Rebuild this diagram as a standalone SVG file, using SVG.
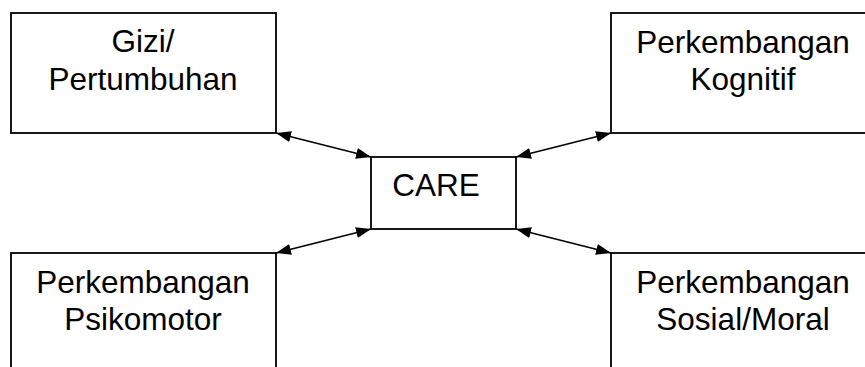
<svg xmlns="http://www.w3.org/2000/svg" width="865" height="367" viewBox="0 0 865 367">
  <style>
    .box { fill: #fff; stroke: #000; stroke-width: 1.8; }
    .lbl { font-family: "Liberation Sans", Arial, sans-serif; font-size: 31.5px; fill: #000; text-anchor: middle; }
    .link { stroke: #000; stroke-width: 1.6; fill: none; marker-start: url(#head); marker-end: url(#head); }
  </style>
  <defs>
    <marker id="head" viewBox="0 0 15 11" refX="15" refY="5.5" markerWidth="15" markerHeight="11" markerUnits="userSpaceOnUse" orient="auto-start-reverse">
      <path d="M0,0 L15,5.5 L0,11 Z" fill="#000"/>
    </marker>
  </defs>
  <rect width="865" height="367" fill="#fff"/>

  <g id="connectors">
    <line class="link" x1="276" y1="133" x2="371" y2="157"/>
    <line class="link" x1="516" y1="157" x2="611" y2="133"/>
    <line class="link" x1="276" y1="253" x2="371" y2="229"/>
    <line class="link" x1="516" y1="229" x2="611" y2="253"/>
  </g>

  <g id="gizi">
    <rect class="box" x="11" y="13" width="265" height="120"/>
    <text class="lbl" x="143" y="52">Gizi/</text>
    <text class="lbl" x="143" y="90">Pertumbuhan</text>
  </g>

  <g id="kognitif">
    <rect class="box" x="611" y="13" width="264" height="120"/>
    <text class="lbl" x="743" y="53">Perkembangan</text>
    <text class="lbl" x="743" y="90">Kognitif</text>
  </g>

  <g id="care">
    <rect class="box" x="371" y="157" width="145" height="72"/>
    <text class="lbl" x="436" y="196">CARE</text>
  </g>

  <g id="psikomotor">
    <rect class="box" x="11" y="253" width="265" height="130"/>
    <text class="lbl" x="143" y="293">Perkembangan</text>
    <text class="lbl" x="143" y="330">Psikomotor</text>
  </g>

  <g id="sosial">
    <rect class="box" x="611" y="253" width="264" height="130"/>
    <text class="lbl" x="743" y="293">Perkembangan</text>
    <text class="lbl" x="743" y="330">Sosial/Moral</text>
  </g>
</svg>
